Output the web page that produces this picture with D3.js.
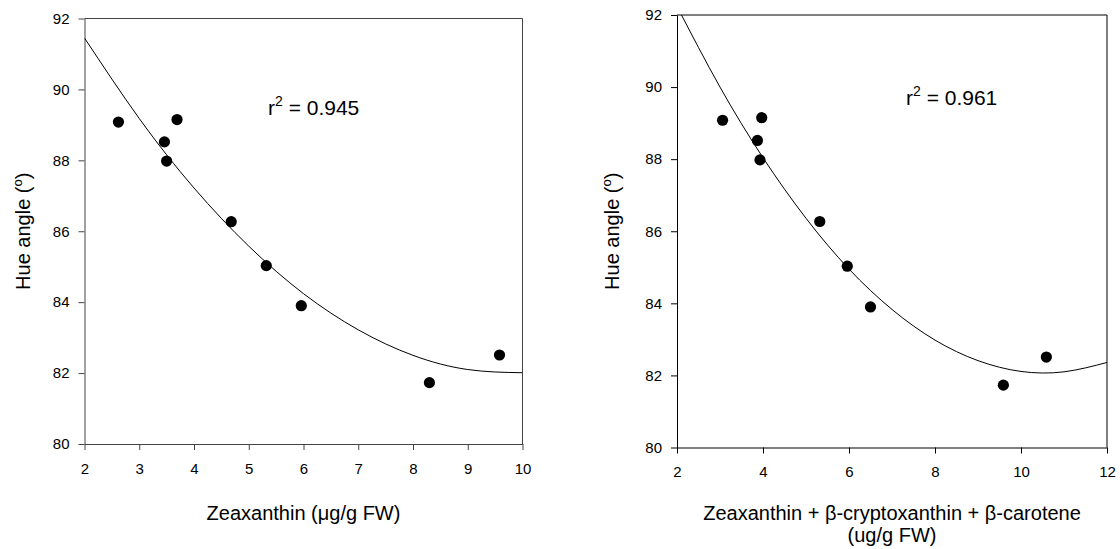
<!DOCTYPE html>
<html>
<head>
<meta charset="utf-8">
<script src="https://cdn.jsdelivr.net/npm/d3@7"></script>
<style>
  body { margin: 0; background: #fff; }
  svg { display: block; font-family: "Liberation Sans", Arial, sans-serif; }
</style>
</head>
<body>
<div id="viz"></div>
<script>
// hue angle of each sample (same for both panels)
var hueAngle = [89.08, 88.52, 87.98, 89.15, 86.27, 85.03, 83.90, 81.73, 82.51];
// x values, left panel: zeaxanthin
var zeaxanthin = [2.62, 3.46, 3.50, 3.69, 4.68, 5.32, 5.96, 8.30, 9.58];
// x values, right panel: zeaxanthin + b-cryptoxanthin + b-carotene
var totalCarot = [3.06, 3.87, 3.93, 3.97, 5.32, 5.96, 6.50, 9.59, 10.59];

// fitted curves
var fitLeftX = [2, 3, 4, 5, 6, 7, 8, 9, 10];
var fitLeftY = [91.45, 89.18, 87.22, 85.58, 84.24, 83.22, 82.50, 82.10, 82.01];
var fitRightX = [2, 3, 4, 5, 6, 7, 8, 9, 10, 11, 12];
var fitRightY = [92.24, 90.00, 88.04, 86.36, 84.95, 83.83, 82.98, 82.41, 82.11, 82.10, 82.36];

// ticks
var yTicks = [80, 82, 84, 86, 88, 90, 92];
var leftXTicks = [2, 3, 4, 5, 6, 7, 8, 9, 10];
var rightXTicks = [2, 4, 6, 8, 10, 12];

var r2Left = "0.945", r2Right = "0.961";

var svg = d3.select('#viz').append('svg')
  .attr('width', 1120)
  .attr('height', 549);

function panel(opt) {
  var x = d3.scaleLinear().domain(opt.xDomain).range([opt.left, opt.right]);
  var y = d3.scaleLinear().domain([80, 92]).range([opt.bottom, opt.top]);
  var g = svg.append('g');

  // clip for the fit line
  g.append('clipPath').attr('id', opt.id)
    .append('rect')
    .attr('x', opt.left).attr('y', opt.top)
    .attr('width', opt.right - opt.left).attr('height', opt.bottom - opt.top);

  // frame (top + right)
  g.append('path')
    .attr('d', 'M' + opt.left + ',' + opt.top + 'H' + opt.right + 'V' + opt.bottom)
    .attr('fill', 'none').attr('stroke', opt.frame).attr('stroke-width', 1);

  var yAxis = g.append('g')
    .attr('transform', 'translate(' + opt.left + ',0)')
    .call(d3.axisLeft(y).tickValues(yTicks).tickSize(6).tickPadding(9).tickSizeOuter(0));
  var xAxis = g.append('g')
    .attr('transform', 'translate(0,' + opt.bottom + ')')
    .call(d3.axisBottom(x).tickValues(opt.xTicks).tickSize(6).tickPadding(13).tickSizeOuter(0));
  [yAxis, xAxis].forEach(function(a) {
    a.attr('font-size', 15).attr('font-family', '"Liberation Sans", Arial, sans-serif');
    a.selectAll('path, line').attr('stroke', opt.frame);
    a.selectAll('text').attr('fill', '#000');
  });

  // fit line
  var line = d3.line()
    .x(function(d) { return x(d[0]); })
    .y(function(d) { return y(d[1]); })
    .curve(d3.curveNatural);
  g.append('path')
    .datum(d3.zip(opt.fitX, opt.fitY))
    .attr('clip-path', 'url(#' + opt.id + ')')
    .attr('d', line)
    .attr('fill', 'none').attr('stroke', '#000').attr('stroke-width', 1);

  // points
  g.selectAll('circle.pt')
    .data(d3.zip(opt.xs, hueAngle))
    .enter().append('circle')
    .attr('class', 'pt')
    .attr('cx', function(d) { return x(d[0]); })
    .attr('cy', function(d) { return y(d[1]); })
    .attr('r', 5.6)
    .attr('fill', '#000');

  // r^2
  var rt = g.append('text')
    .attr('x', opt.r2x).attr('y', opt.r2y)
    .attr('font-size', 21);
  rt.append('tspan').text('r');
  rt.append('tspan').attr('dy', -9).attr('font-size', 14).text('2');
  rt.append('tspan').attr('dy', 9).text(' = ' + opt.r2);

  // y title
  var yt = g.append('text')
    .attr('transform', 'translate(' + opt.ytx + ',' + ((opt.top + opt.bottom) / 2) + ') rotate(-90)')
    .attr('text-anchor', 'middle')
    .attr('font-size', 20);
  yt.append('tspan').text('Hue angle (');
  yt.append('tspan').attr('dy', -8).attr('font-size', 13).text('o');
  yt.append('tspan').attr('dy', 8).text(')');

  // x title
  var xt = g.append('text')
    .attr('x', (opt.left + opt.right) / 2)
    .attr('text-anchor', 'middle')
    .attr('font-size', 20);
  opt.xTitle.forEach(function(s, i) {
    xt.append('tspan')
      .attr('x', (opt.left + opt.right) / 2)
      .attr('y', 520 + i * 21.5)
      .text(s);
  });
}

panel({
  id: 'clipL', left: 84.5, right: 522.5, top: 18.5, bottom: 444,
  xDomain: [2, 10], xTicks: leftXTicks, xs: zeaxanthin,
  fitX: fitLeftX, fitY: fitLeftY, frame: '#444',
  r2: r2Left, r2x: 268, r2y: 115, ytx: 30,
  xTitle: ['Zeaxanthin (\u03bcg/g FW)']
});

panel({
  id: 'clipR', left: 677, right: 1107, top: 15, bottom: 447.5,
  xDomain: [2, 12], xTicks: rightXTicks, xs: totalCarot,
  fitX: fitRightX, fitY: fitRightY, frame: '#000',
  r2: r2Right, r2x: 906, r2y: 105, ytx: 619,
  xTitle: ['Zeaxanthin + \u03b2-cryptoxanthin + \u03b2-carotene', '(ug/g FW)']
});
</script>
</body>
</html>
